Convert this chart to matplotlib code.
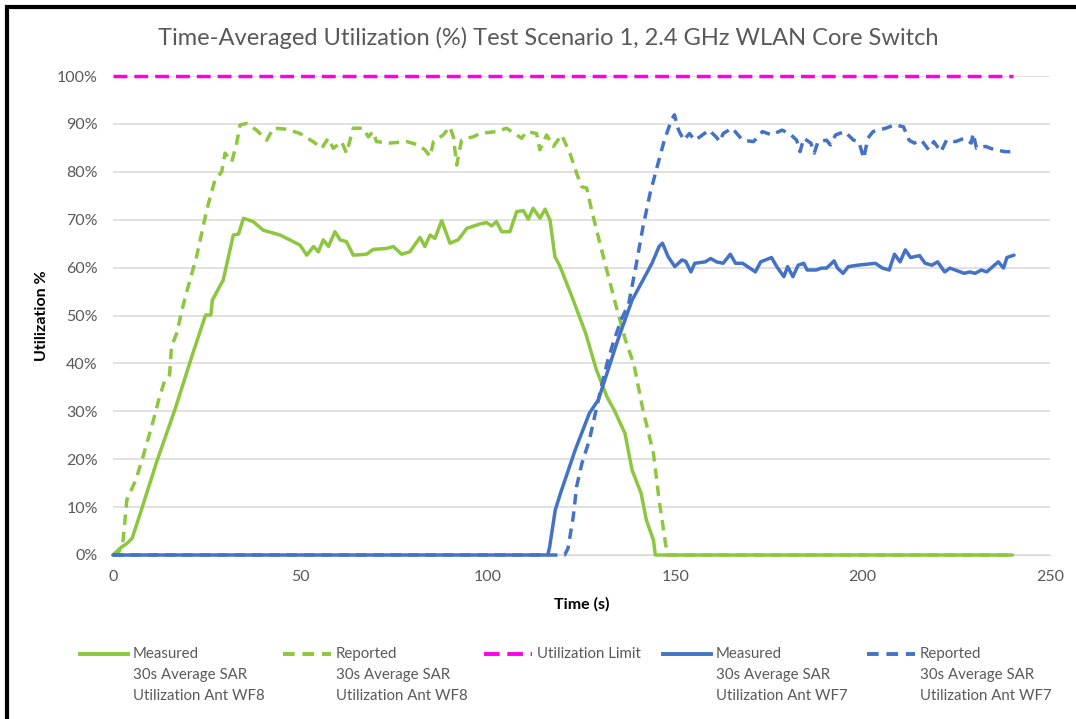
import matplotlib
matplotlib.use("Agg")
import matplotlib.pyplot as plt
from matplotlib.lines import Line2D
from matplotlib.patches import Rectangle

plt.rcParams['font.family'] = ['Lato', 'DejaVu Sans']

# (time s, utilization %)
meas_wf8 = [(0, 0), (2, 1.5), (3.7, 2.4), (5.1, 3.5), (7, 8), (11.8, 19.8), (16.5, 30.3),
            (21.3, 42.1), (24.7, 50.1), (26.1, 50.1), (26.5, 53.2), (29.4, 57.4), (32.1, 66.8),
            (33.5, 67), (34.8, 70.3), (37.4, 69.6), (40.1, 67.8), (44.6, 66.8), (49.9, 64.7),
            (51.7, 62.6), (53.5, 64.4), (54.8, 63.3), (56.1, 65.8), (57.5, 64.4), (59.2, 67.5),
            (60.6, 65.8), (62.3, 65.4), (64.1, 62.6), (67.7, 62.8), (69.4, 63.8), (73, 64.0),
            (74.8, 64.4), (77, 62.8), (79.2, 63.3), (81.9, 66.3), (83.2, 64.4), (84.6, 66.8),
            (85.9, 66.1), (87.7, 69.8), (89.9, 65.1), (92.1, 65.8), (94.4, 68.2), (97.9, 69.1),
            (99.7, 69.4), (101, 68.7), (102.3, 69.6), (103.7, 67.5), (105.9, 67.5), (107.7, 71.7),
            (109.5, 71.9), (110.8, 70.1), (112.1, 72.4), (113.9, 70.3), (115.3, 72.2), (116.6, 69.9),
            (117.9, 62.3), (119.3, 60.2), (122.8, 53.2), (126.1, 46.3), (129, 38.6), (131.8, 33),
            (133.7, 30.3), (136.6, 25.4), (138.5, 17.7), (140.9, 12.9), (142.3, 7.3), (144.2, 3.1),
            (144.7, 0), (240, 0)]

rep_wf8 = [(0, 0), (1.5, 0.5), (2.7, 3.1), (3.7, 11.5), (6.1, 15.7), (8, 20.5), (10.8, 28.2),
           (12.2, 32.4), (13.7, 36.2), (15.1, 37.6), (15.6, 43.5), (17, 46.3), (18.4, 51.1),
           (19.3, 53.9), (22.3, 62.3), (25, 72), (27.2, 78.3), (29, 80), (29.9, 83.9), (31.7, 82.1),
           (33, 86), (33.9, 89.8), (35.7, 90.1), (38.3, 88.7), (41, 86.6), (42.8, 89.1), (46.3, 88.9),
           (49.9, 88), (53.4, 86.3), (55.7, 84.9), (57.4, 87), (58.8, 84.9), (61, 86.3), (62.3, 83.9),
           (64.1, 89.1), (66.8, 89.1), (68.1, 87.3), (69.4, 88.4), (70.3, 86.3), (73.9, 86),
           (78.4, 86.3), (81.5, 85.6), (83.2, 84.6), (84.6, 83.2), (85.5, 86.3), (86.8, 87),
           (88.1, 87.7), (89.9, 89.4), (90.8, 87.3), (91.7, 81.4), (93, 86.6), (94.4, 87),
           (96.1, 87.3), (97.9, 88), (102.3, 88.4), (105, 89.1), (107.7, 87.7), (109, 87),
           (110.4, 88.4), (113, 88), (113.9, 84.6), (115.7, 87.7), (117.5, 85.3), (119.7, 87.7),
           (121.9, 83.9), (123.7, 79.7), (125, 76.9), (126.4, 76.6), (127.7, 72), (129.9, 65.1),
           (133.8, 53.2), (136.6, 45.2), (139, 39.7), (141.4, 30.3), (144.2, 21.2), (145.7, 11.5),
           (147.5, 2), (148, 0), (240, 0)]

limit = [(0, 100), (240, 100)]

meas_wf7 = [(0, 0), (116, 0), (116.5, 1.7), (118, 9.4), (119.4, 12.9), (123.3, 21.9), (127.1, 29.6),
            (129.5, 32.4), (130.9, 35.8), (134.7, 44.9), (138.5, 53.2), (141.4, 57.4), (143.8, 60.9),
            (145.7, 64.4), (146.6, 65.1), (148.1, 62.3), (149.9, 60.2), (151.8, 61.6), (152.8, 61.3),
            (154.2, 59.1), (155.2, 60.9), (158, 61.2), (159.5, 61.9), (161, 61.2), (162.8, 60.9),
            (164.7, 62.8), (166.1, 60.9), (168, 60.9), (169.9, 59.9), (171.4, 59.1), (172.8, 61.2),
            (175.7, 62.1), (177.1, 60.2), (179, 58.1), (180, 60.2), (181.4, 58.1), (182.8, 60.5),
            (184.3, 60.9), (185.2, 59.5), (187.6, 59.5), (189, 59.9), (190.4, 59.9), (192.4, 61.4),
            (193.3, 59.9), (194.8, 58.8), (196.2, 60.2), (198.6, 60.5), (203.4, 60.9), (205.3, 59.9),
            (207.1, 59.5), (208.5, 62.8), (210, 61.2), (211.4, 63.7), (212.8, 62.1), (215.2, 62.5),
            (216.7, 60.9), (218.5, 60.5), (220, 61.2), (221.9, 59.1), (223.3, 59.9), (227.1, 58.8),
            (228.6, 59.1), (230, 58.8), (231.7, 59.5), (233.1, 59.1), (236.2, 61.2), (237.6, 59.9),
            (238.5, 62.1), (240.4, 62.6)]

rep_wf7 = [(0, 0), (120.5, 0), (121.4, 1.4), (122.8, 8), (123.7, 14.3), (125.1, 19.1), (127.1, 24),
           (128.5, 28.9), (129.9, 33.8), (131.8, 40), (133.7, 44.9), (135.6, 49.1), (137.6, 52.5),
           (139.5, 60.2), (141.4, 68.5), (143.3, 75.5), (145.2, 81.1), (147.1, 86.6), (149, 90.8),
           (149.8, 91.9), (150.9, 88.7), (152.3, 86.6), (153.8, 88), (155.2, 86.6), (156.6, 87.3),
           (159, 88.7), (160.9, 87.3), (161.9, 86.3), (162.8, 88), (165.2, 89.1), (168, 86.6),
           (170.9, 86.3), (173.3, 88.4), (175.7, 87.7), (178.5, 88.7), (180.5, 88), (182.4, 86.6),
           (183.3, 84.2), (184.3, 87), (186.2, 86), (187.1, 83.9), (188.1, 86.3), (190.4, 86.6),
           (191.4, 85.6), (192.8, 87.7), (195.2, 88.4), (197.6, 86.6), (199, 86.3), (200.3, 82.8),
           (201.4, 87), (202.8, 88.4), (206.2, 89.1), (208.5, 89.8), (210.9, 89.4), (212.4, 86.6),
           (213.8, 86), (215.7, 86.6), (217.6, 84.6), (219, 86.3), (220.9, 84.2), (222.4, 86.6),
           (224.8, 86.3), (227.1, 87), (229, 86), (229.5, 88), (230.4, 84.9), (232.8, 85.3),
           (235.2, 84.6), (238.1, 84.2), (240, 84.2)]

labels = ["Measured\n30s Average SAR\nUtilization Ant WF8",
          "Reported\n30s Average SAR\nUtilization Ant WF8",
          "Utilization Limit",
          "Measured\n30s Average SAR\nUtilization Ant WF7",
          "Reported\n30s Average SAR\nUtilization Ant WF7"]

GREEN = '#8DC63F'
BLUE = '#4472C4'
MAGENTA = '#FF00E6'
TXT = '#595959'

series = [(meas_wf8, GREEN, '-'), (rep_wf8, GREEN, (0, (3, 2))), (limit, MAGENTA, (0, (4, 2))),
          (meas_wf7, BLUE, '-'), (rep_wf7, BLUE, (0, (3, 2)))]

W, H = 1076, 719
fig = plt.figure(figsize=(W / 100, H / 100), dpi=100)
ax = fig.add_axes([113 / W, 1 - 555 / H, (1050 - 113) / W, (555 - 76) / H])

for data, col, ls in series:
    t = [p[0] for p in data]
    v = [p[1] for p in data]
    ax.plot(t, v, color=col, linestyle=ls, lw=2.5, clip_on=False, solid_capstyle='round',
            dash_capstyle='butt', zorder=3)

ax.set_xlim(0, 250)
ax.set_ylim(0, 100)
ax.set_xticks(range(0, 251, 50))
ax.set_yticks(range(0, 101, 10))
ax.set_yticklabels([f"{y}%" for y in range(0, 101, 10)])
ax.grid(axis='y', color='#D9D9D9', lw=1.1)
ax.set_axisbelow(True)
for s in ['top', 'right', 'left']:
    ax.spines[s].set_visible(False)
ax.spines['bottom'].set_color('#D9D9D9')
ax.tick_params(length=0, colors=TXT, labelsize=11.5)
ax.tick_params(axis='y', pad=11)
ax.tick_params(axis='x', pad=11)
ax.set_xlabel("Time (s)", fontsize=11.5, fontweight='bold', color='black', labelpad=9)
ax.set_ylabel("Utilization %", fontsize=11.5, fontweight='bold', color='black', labelpad=6)

fig.text(548 / W, 1 - 38 / H, "Time-Averaged Utilization (%) Test Scenario 1, 2.4 GHz WLAN Core Switch",
         ha='center', va='center', fontsize=17, color=TXT)

# legend drawn by hand so the handle sits on the first text line
leg_x = [80, 283, 484, 663, 867]
leg_w = 48
leg_y = 654
for i, (data, col, ls) in enumerate(series):
    x0 = leg_x[i]
    fig.add_artist(Line2D([x0 / W, (x0 + leg_w) / W], [1 - leg_y / H, 1 - leg_y / H],
                          color=col, linestyle=ls, lw=2.8))
    fig.text((x0 + leg_w + 5) / W, 1 - (leg_y - 7) / H, labels[i], ha='left', va='top',
             fontsize=10.8, color=TXT, linespacing=1.65)

# black frame of the screenshot
fig.add_artist(Rectangle((7 / W, -0.2), 1.5, 1.2 - 7 / H, transform=fig.transFigure,
                         fill=False, edgecolor='black', lw=3))

fig.savefig("out.png", dpi=100)
